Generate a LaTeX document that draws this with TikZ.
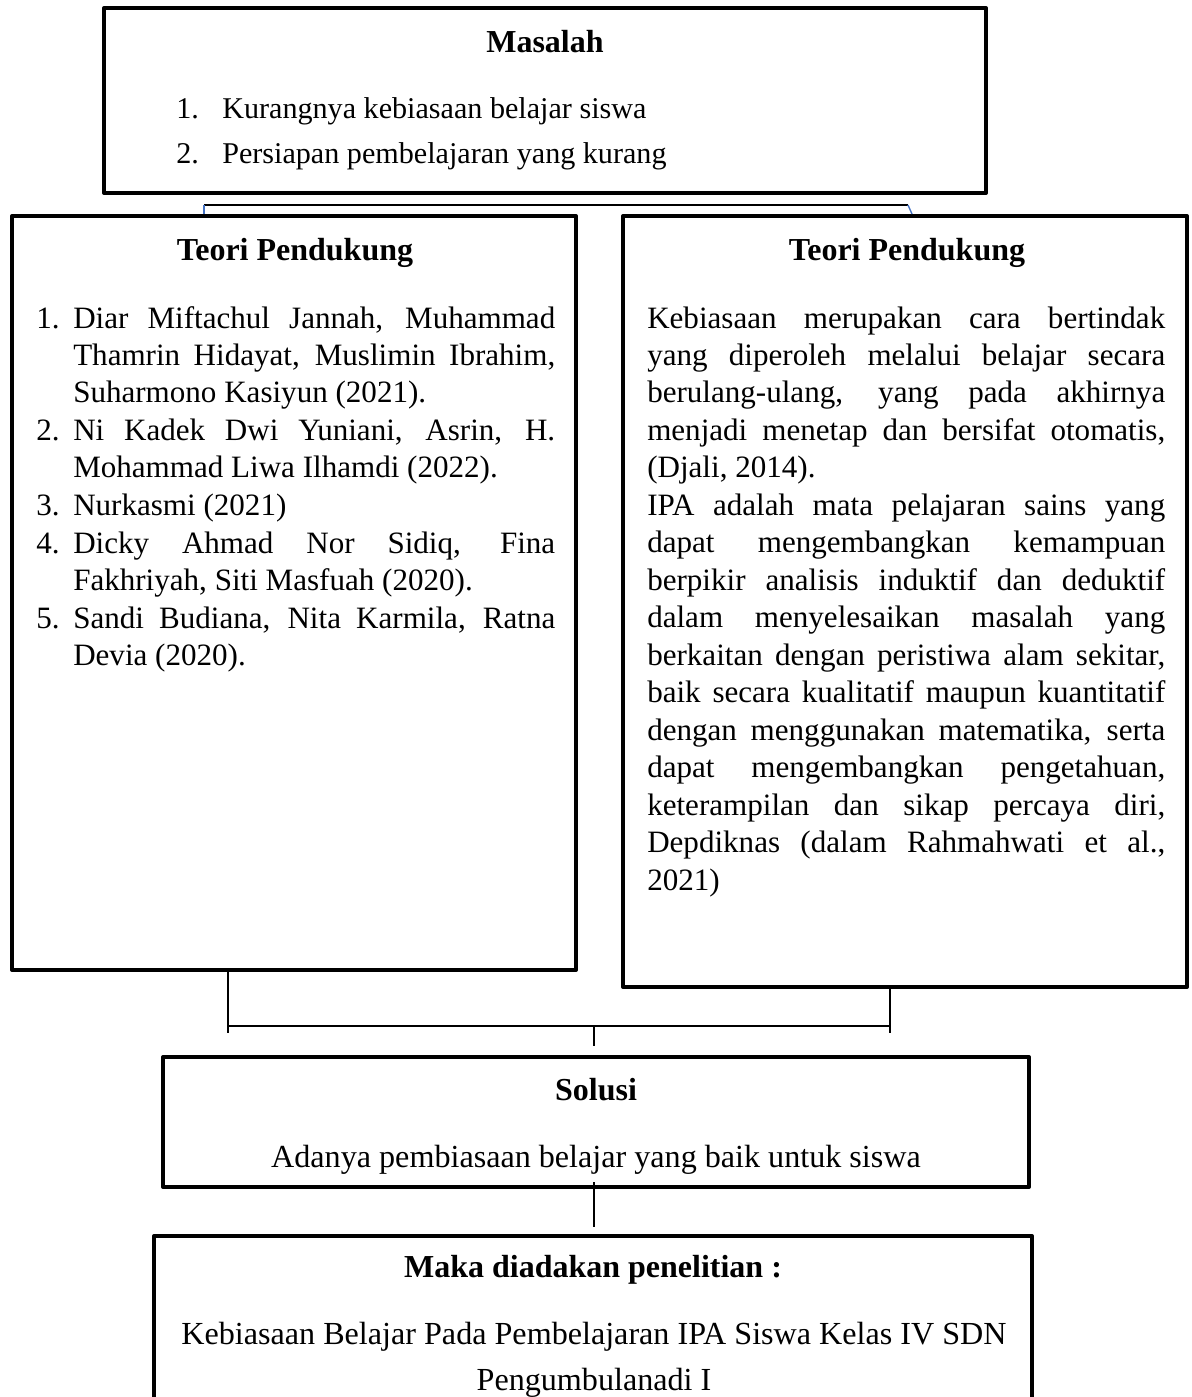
\documentclass[tikz,border=0pt]{standalone}
\usepackage{fontspec}
\setmainfont{Liberation Serif}
\usetikzlibrary{fit}
\definecolor{tickc}{HTML}{4472C4}
\hyphenpenalty=10000
\exhyphenpenalty=10000
\tolerance=10000

\begin{document}
\begin{tikzpicture}[x=0.75pt, y=-0.75pt,
  box/.style={draw, line width=3pt, line join=round, inner sep=0pt},
  txt/.style={inner sep=0pt, font=\fontsize{23.3pt}{28.1pt}\selectfont},
  bigtxt/.style={inner sep=0pt, font=\fontsize{24.1pt}{28.1pt}\selectfont},
  smalltxt/.style={inner sep=0pt, font=\fontsize{22.6pt}{28.1pt}\selectfont},
  head/.style={inner sep=0pt, font=\fontsize{24pt}{28.1pt}\selectfont\bfseries},
  para/.style={txt, anchor=base west, text width=#1, align=justify},
  link/.style={line width=1.1pt},
  tick/.style={tickc, line width=1pt}]
  \useasboundingbox (0,0) rectangle (1192,1397);

  \node[box, fit={(104,8) (986,193)}] (masalah) {};
  \node[box, fit={(12,216) (576,970)}] (teoriA) {};
  \node[box, fit={(623,216) (1187,987)}] (teoriB) {};
  \node[box, fit={(163,1057) (1029,1187)}] (solusi) {};
  \node[box, fit={(154,1236) (1032,1430)}] (maka) {};

  \node[head, anchor=base] (masalahH) at (545,52) {Masalah};
  \node[smalltxt, anchor=base west] (m1no) at (176,118) {1.};
  \node[smalltxt, anchor=base west] (m1) at (222,118) {Kurangnya kebiasaan belajar siswa};
  \node[smalltxt, anchor=base west] (m2no) at (176,163) {2.};
  \node[smalltxt, anchor=base west] (m2) at (222,163) {Persiapan pembelajaran yang kurang};

  \node[head, anchor=base] (teoriAH) at (295,260) {Teori Pendukung};
  \node[txt, anchor=base west] (a1no) at (36,328) {1.};
  \node[para=361.5pt] (a1) at (73,328) {Diar Miftachul Jannah, Muhammad\linebreak
    Thamrin Hidayat, Muslimin Ibrahim,\linebreak Suharmono Kasiyun (2021).};
  \node[txt, anchor=base west] (a2no) at (36,440.5) {2.};
  \node[para=361.5pt] (a2) at (73,440.5) {Ni Kadek Dwi Yuniani, Asrin, H.\linebreak
    Mohammad Liwa Ilhamdi (2022).};
  \node[txt, anchor=base west] (a3no) at (36,515.5) {3.};
  \node[para=361.5pt] (a3) at (73,515.5) {Nurkasmi (2021)};
  \node[txt, anchor=base west] (a4no) at (36,553) {4.};
  \node[para=361.5pt] (a4) at (73,553) {Dicky Ahmad Nor Sidiq, Fina\linebreak
    Fakhriyah, Siti Masfuah (2020).};
  \node[txt, anchor=base west] (a5no) at (36,628) {5.};
  \node[para=361.5pt] (a5) at (73,628) {Sandi Budiana, Nita Karmila, Ratna\linebreak
    Devia (2020).};

  \node[head, anchor=base] (teoriBH) at (907,260) {Teori Pendukung};
  \node[para=388.5pt] (b1) at (647,328) {Kebiasaan merupakan cara bertindak\linebreak
    yang diperoleh melalui belajar secara\linebreak
    berulang-ulang, yang pada akhirnya\linebreak
    menjadi menetap dan bersifat otomatis,\linebreak
    (Djali, 2014).\par
    IPA adalah mata pelajaran sains yang\linebreak
    dapat mengembangkan kemampuan\linebreak
    berpikir analisis induktif dan deduktif\linebreak
    dalam menyelesaikan masalah yang\linebreak
    berkaitan dengan peristiwa alam sekitar,\linebreak
    baik secara kualitatif maupun kuantitatif\linebreak
    dengan menggunakan matematika, serta\linebreak
    dapat mengembangkan pengetahuan,\linebreak
    keterampilan dan sikap percaya diri,\linebreak
    Depdiknas (dalam Rahmahwati et al.,\linebreak
    2021)};

  \node[head, anchor=base] (solusiH) at (596,1100) {Solusi};
  \node[bigtxt, anchor=base] (solusiT) at (596,1167) {Adanya pembiasaan belajar yang baik untuk siswa};

  \node[head, anchor=base] (makaH) at (593,1277) {Maka diadakan penelitian :};
  \node[bigtxt, anchor=base] (makaT1) at (594,1344) {Kebiasaan Belajar Pada Pembelajaran IPA Siswa Kelas IV SDN};
  \node[bigtxt, anchor=base] (makaT2) at (594,1390) {Pengumbulanadi I};

  \coordinate (topL) at (204,205);
  \coordinate (topR) at (908,205);
  \draw[line width=1.9pt] (topL) -- (topR);
  \draw[tick] (topL) -- (topL |- teoriA.north);
  \draw[tick] (topR) -- ([xshift=3pt]topR |- teoriB.north);

  \coordinate (botL) at (228,1026);
  \coordinate (botR) at (890,1026);
  \coordinate (botM) at (594,1026);
  \draw[link] ([yshift=3pt]botL |- teoriA.south) -- ([yshift=-5pt]botL);
  \draw[link] (botR |- teoriB.south) -- ([yshift=-5pt]botR);
  \draw[link] (botL) -- (botR);
  \draw[link] (botM) -- ++(0,20);
  \draw[link] ([yshift=5pt]botM |- solusi.south) -- ([yshift=5pt]botM |- maka.north);
\end{tikzpicture}
\end{document}
